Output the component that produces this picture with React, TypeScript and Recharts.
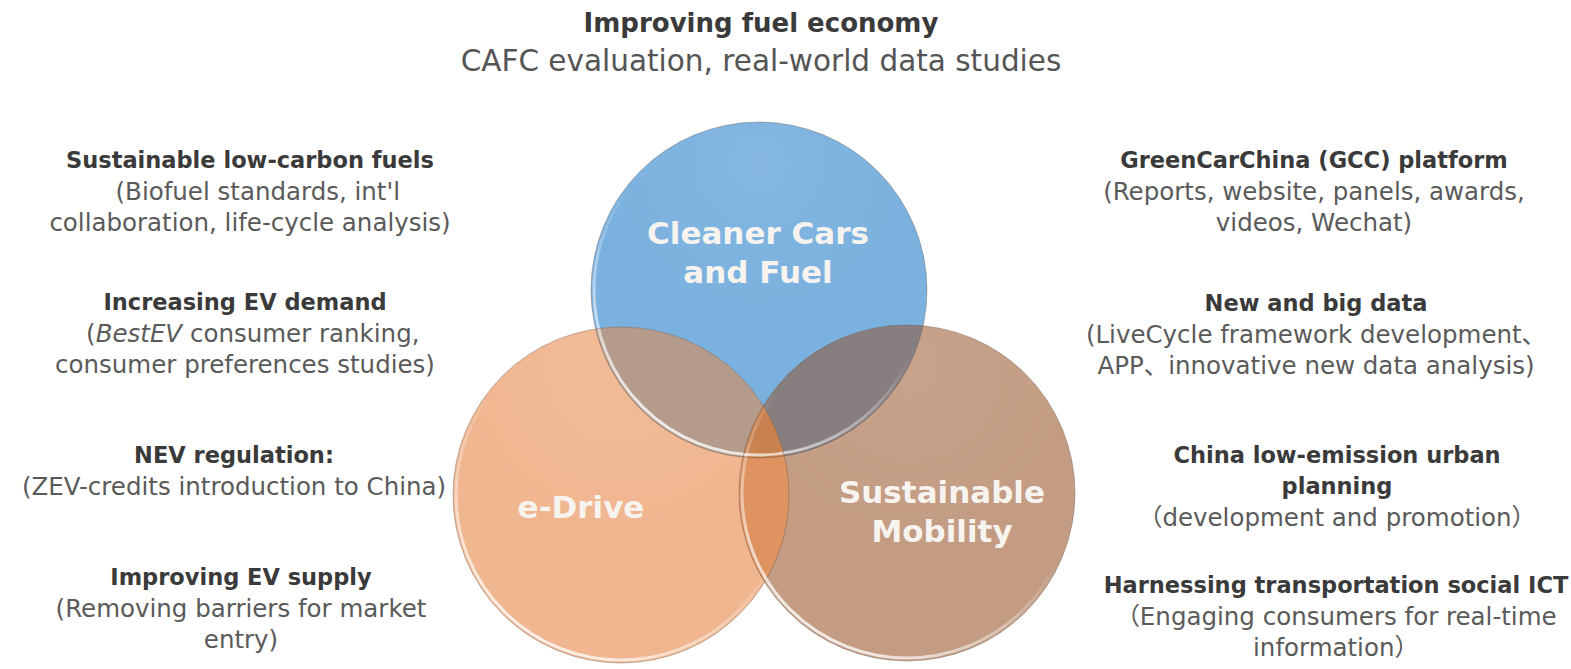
import { ScatterChart, Scatter, XAxis, YAxis } from 'recharts';

const W = 1571;
const H = 669;
const FONT = '"DejaVu Sans", "Noto Sans CJK SC", sans-serif';

// the three programme areas (chart units are pixels: x to the right, y downwards)
const circleIds = ['fuel', 'drive', 'mobility'];
const circleX = [759, 621, 907];
const circleY = [290, 495, 493];
const circleR = [168, 168, 168];
const circleColors = ['#7BB1DF', '#F0B690', '#C39C83'];

const circleLabels = [['Cleaner Cars', 'and Fuel'], ['e-Drive'], ['Sustainable', 'Mobility']];
const circleLabelX = [758, 581, 942];
const circleLabelY = [233, 507, 492];

// overlaps: first circle clipped by the others
const overlapSets = [
  ['fuel', 'drive'],
  ['fuel', 'mobility'],
  ['drive', 'mobility'],
  ['fuel', 'drive', 'mobility'],
];
const overlapColors = ['#B49B8C', '#877E80', '#DE9360', '#C9814F'];

const headerTitle = 'Improving fuel economy';
const headerSub = 'CAFC evaluation, real-world data studies';

const noteTitles = [
  ['Sustainable low-carbon fuels'],
  ['Increasing EV demand'],
  ['NEV regulation:'],
  ['Improving EV supply'],
  ['GreenCarChina (GCC) platform'],
  ['New and big data'],
  ['China low-emission urban', 'planning'],
  ['Harnessing transportation social ICT'],
];
const noteBodies = [
  ["  (Biofuel standards, int'l", 'collaboration, life-cycle analysis)'],
  ['  (*BestEV* consumer ranking,', 'consumer preferences studies)'],
  ['(ZEV-credits introduction to China)'],
  ['(Removing barriers for market', 'entry)'],
  ['(Reports, website, panels, awards,', 'videos, Wechat)'],
  ['(LiveCycle framework development、', 'APP、innovative new data analysis)'],
  ['（development and promotion）'],
  ['（Engaging consumers for real-time', 'information）'],
];
const noteX = [250, 245, 234, 241, 1314, 1316, 1337, 1336];
const noteY = [160, 302, 455, 577, 160, 303, 455, 585];

const byId = (id: string) => circleIds.indexOf(id);

const circleData = circleIds.map((id, i) => ({ id, x: circleX[i], y: circleY[i], r: circleR[i], fill: circleColors[i] }));
const overlapData = overlapSets.map((set, i) => {
  const k = byId(set[0]);
  return { x: circleX[k], y: circleY[k], r: circleR[k], clips: set.slice(1), fill: overlapColors[i] };
});
const labelData = circleLabels.map((lines, i) => ({ x: circleLabelX[i], y: circleLabelY[i], lines }));
const headerData = [{ x: 761, y: 22, title: headerTitle, sub: headerSub }];
const noteData = noteTitles.map((t, i) => ({ x: noteX[i], y: noteY[i], titles: t, bodies: noteBodies[i] }));

function BaseCircle(props: any) {
  const { cx, cy, payload } = props;
  const gid = `rim-${payload.id}`;
  return (
    <g>
      <defs>
        <clipPath id={`clip-${payload.id}`}>
          <circle cx={cx} cy={cy} r={payload.r} />
        </clipPath>
        <linearGradient id={gid} x1="0.8" y1="0" x2="0.2" y2="1">
          <stop offset="0.45" stopColor="#fff" stopOpacity={0} />
          <stop offset="1" stopColor="#fff" stopOpacity={0.9} />
        </linearGradient>
        <radialGradient id={`shine-${payload.id}`} cx="0.5" cy="0.12" r="0.5">
          <stop offset="0" stopColor="#fff" stopOpacity={0.07} />
          <stop offset="1" stopColor="#fff" stopOpacity={0} />
        </radialGradient>
      </defs>
      <circle cx={cx} cy={cy} r={payload.r} fill={payload.fill} />
      <circle cx={cx} cy={cy} r={payload.r} fill={`url(#shine-${payload.id})`} />
    </g>
  );
}

function Rim(props: any) {
  const { cx, cy, payload } = props;
  return (
    <g>
      <circle cx={cx} cy={cy} r={payload.r - 3} fill="none" stroke={`url(#rim-${payload.id})`} strokeWidth={3} />
      <circle cx={cx} cy={cy} r={payload.r} fill="none" stroke="rgba(90,75,65,0.35)" strokeWidth={1} />
    </g>
  );
}

function Overlap(props: any) {
  const { cx, cy, payload } = props;
  let node = <circle cx={cx} cy={cy} r={payload.r} fill={payload.fill} />;
  payload.clips.forEach((c: string) => {
    node = <g clipPath={`url(#clip-${c})`}>{node}</g>;
  });
  return node;
}

function CircleLabel(props: any) {
  const { cx, cy, payload } = props;
  return (
    <g>
      {payload.lines.map((l: string, i: number) => (
        <text
          key={i}
          x={cx}
          y={cy + i * 39 + 11}
          textAnchor="middle"
          fontFamily={FONT}
          fontWeight="bold"
          fontSize={31}
          fill="#F7F4F0"
        >
          {l}
        </text>
      ))}
    </g>
  );
}

function Header(props: any) {
  const { cx, cy, payload } = props;
  return (
    <g>
      <text x={cx} y={cy + 9.5} textAnchor="middle" fontFamily={FONT} fontWeight="bold" fontSize={26} fill="#3a3a3a">
        {payload.title}
      </text>
      <text x={cx} y={cy + 38 + 10.5} textAnchor="middle" fontFamily={FONT} fontSize={29.5} fill="#555">
        {payload.sub}
      </text>
    </g>
  );
}

// *word* in a body line is set in italics
function segments(line: string) {
  return line.split('*').map((s, i) => (
    <tspan key={i} fontStyle={i % 2 ? 'italic' : 'normal'}>
      {s}
    </tspan>
  ));
}

function Note(props: any) {
  const { cx, cy, payload } = props;
  const lines = [
    ...payload.titles.map((t: string) => ({ t, bold: true })),
    ...payload.bodies.map((t: string) => ({ t, bold: false })),
  ];
  return (
    <g>
      {lines.map((l: any, i: number) => (
        <text
          key={i}
          x={cx}
          y={cy + i * 31 + (l.bold ? 8 : 8.5)}
          textAnchor="middle"
          fontFamily={FONT}
          fontWeight={l.bold ? 'bold' : 'normal'}
          fontSize={l.bold ? 22.5 : 24.5}
          fill={l.bold ? '#3a3a3a' : '#5a5a5a'}
          xmlSpace="preserve"
        >
          {segments(l.t)}
        </text>
      ))}
    </g>
  );
}

export default function App() {
  return (
    <div style={{ position: 'absolute', left: 0, top: 0, width: W, height: H, background: '#fff' }}>
      <ScatterChart width={W} height={H} margin={{ top: 0, right: 0, bottom: 0, left: 0 }}>
        <XAxis type="number" dataKey="x" domain={[0, W]} allowDataOverflow hide />
        <YAxis type="number" dataKey="y" domain={[0, H]} reversed allowDataOverflow hide />
        <Scatter data={circleData} shape={BaseCircle} isAnimationActive={false} />
        <Scatter data={overlapData} shape={Overlap} isAnimationActive={false} />
        <Scatter data={circleData} shape={Rim} isAnimationActive={false} />
        <Scatter data={labelData} shape={CircleLabel} isAnimationActive={false} />
        <Scatter data={headerData} shape={Header} isAnimationActive={false} />
        <Scatter data={noteData} shape={Note} isAnimationActive={false} />
      </ScatterChart>
    </div>
  );
}
